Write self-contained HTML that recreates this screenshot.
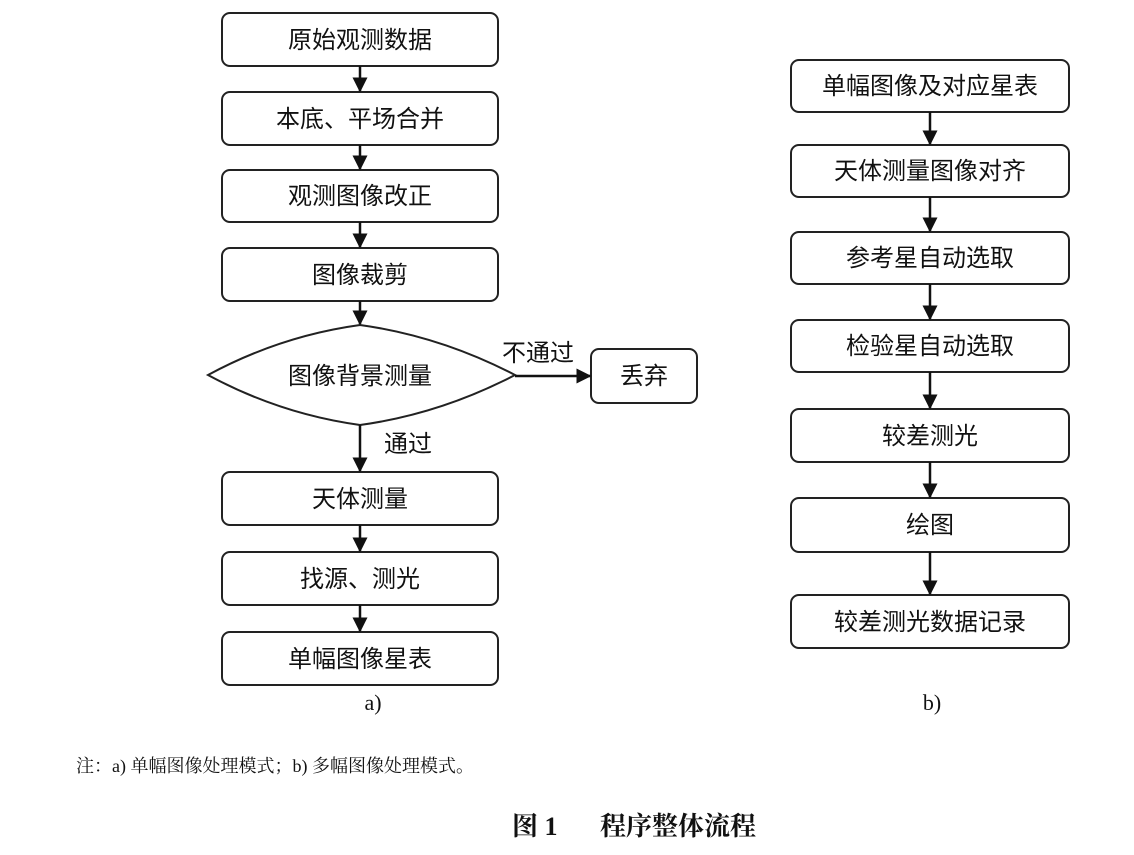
<!DOCTYPE html>
<html><head><meta charset="utf-8"><style>
html,body{margin:0;padding:0;background:#fff;}
svg text{font-family:"Liberation Sans","Noto Sans CJK SC",sans-serif;fill:#111;}
</style></head><body>
<svg width="1134" height="850" viewBox="0 0 1134 850" xmlns="http://www.w3.org/2000/svg">
<defs><marker id="a" viewBox="0 0 10 10" refX="9" refY="5" markerWidth="6" markerHeight="6" orient="auto"><path d="M0,0L10,5L0,10z" fill="#111"/></marker></defs>
<g fill="#fff" stroke="#222" stroke-width="2">
<rect x="222" y="13" width="276" height="53" rx="8"/>
<rect x="222" y="92" width="276" height="53" rx="8"/>
<rect x="222" y="170" width="276" height="52" rx="8"/>
<rect x="222" y="248" width="276" height="53" rx="8"/>
<path d="M208,375 Q280,336 360,325 Q440,336 515,375 Q440,414 360,425 Q280,414 208,375Z"/>
<rect x="591" y="349" width="106" height="54" rx="8"/>
<rect x="222" y="472" width="276" height="53" rx="8"/>
<rect x="222" y="552" width="276" height="53" rx="8"/>
<rect x="222" y="632" width="276" height="53" rx="8"/>
<rect x="791" y="60" width="278" height="52" rx="8"/>
<rect x="791" y="145" width="278" height="52" rx="8"/>
<rect x="791" y="232" width="278" height="52" rx="8"/>
<rect x="791" y="320" width="278" height="52" rx="8"/>
<rect x="791" y="409" width="278" height="53" rx="8"/>
<rect x="791" y="498" width="278" height="54" rx="8"/>
<rect x="791" y="595" width="278" height="53" rx="8"/>
</g>
<g stroke="#111" stroke-width="2.5" marker-end="url(#a)">
<line x1="360" y1="66" x2="360" y2="91"/>
<line x1="360" y1="145" x2="360" y2="169"/>
<line x1="360" y1="222" x2="360" y2="247"/>
<line x1="360" y1="301" x2="360" y2="324"/>
<line x1="360" y1="425" x2="360" y2="471"/>
<line x1="360" y1="525" x2="360" y2="551"/>
<line x1="360" y1="605" x2="360" y2="631"/>
<line x1="515" y1="376" x2="590" y2="376"/>
<line x1="930" y1="112" x2="930" y2="144"/>
<line x1="930" y1="197" x2="930" y2="231"/>
<line x1="930" y1="284" x2="930" y2="319"/>
<line x1="930" y1="372" x2="930" y2="408"/>
<line x1="930" y1="462" x2="930" y2="497"/>
<line x1="930" y1="552" x2="930" y2="594"/>
</g>
<g font-size="24" text-anchor="middle">
<text x="360" y="48">原始观测数据</text>
<text x="360" y="127">本底、平场合并</text>
<text x="360" y="204">观测图像改正</text>
<text x="360" y="283">图像裁剪</text>
<text x="360" y="384">图像背景测量</text>
<text x="644" y="384">丢弃</text>
<text x="360" y="507">天体测量</text>
<text x="360" y="587">找源、测光</text>
<text x="360" y="667">单幅图像星表</text>
<text x="538" y="361">不通过</text>
<text x="408" y="452">通过</text>
<text x="930" y="94">单幅图像及对应星表</text>
<text x="930" y="179">天体测量图像对齐</text>
<text x="930" y="266">参考星自动选取</text>
<text x="930" y="354">检验星自动选取</text>
<text x="930" y="444">较差测光</text>
<text x="930" y="533">绘图</text>
<text x="930" y="630">较差测光数据记录</text>
</g>
<text x="373" y="710" font-size="22" text-anchor="middle" style="font-family:'Liberation Serif',serif">a)</text>
<text x="932" y="710" font-size="22" text-anchor="middle" style="font-family:'Liberation Serif',serif">b)</text>
<text x="76" y="772" font-size="18" style="font-family:'Liberation Serif','Noto Serif CJK SC',serif">注：a) 单幅图像处理模式；b) 多幅图像处理模式。</text>
<text x="512" y="835" font-size="26" font-weight="bold" style="font-family:'Liberation Serif','Noto Serif CJK SC',serif">图 1</text>
<text x="600" y="835" font-size="26" font-weight="bold" style="font-family:'Liberation Serif','Noto Serif CJK SC',serif">程序整体流程</text>
</svg>
</body></html>
